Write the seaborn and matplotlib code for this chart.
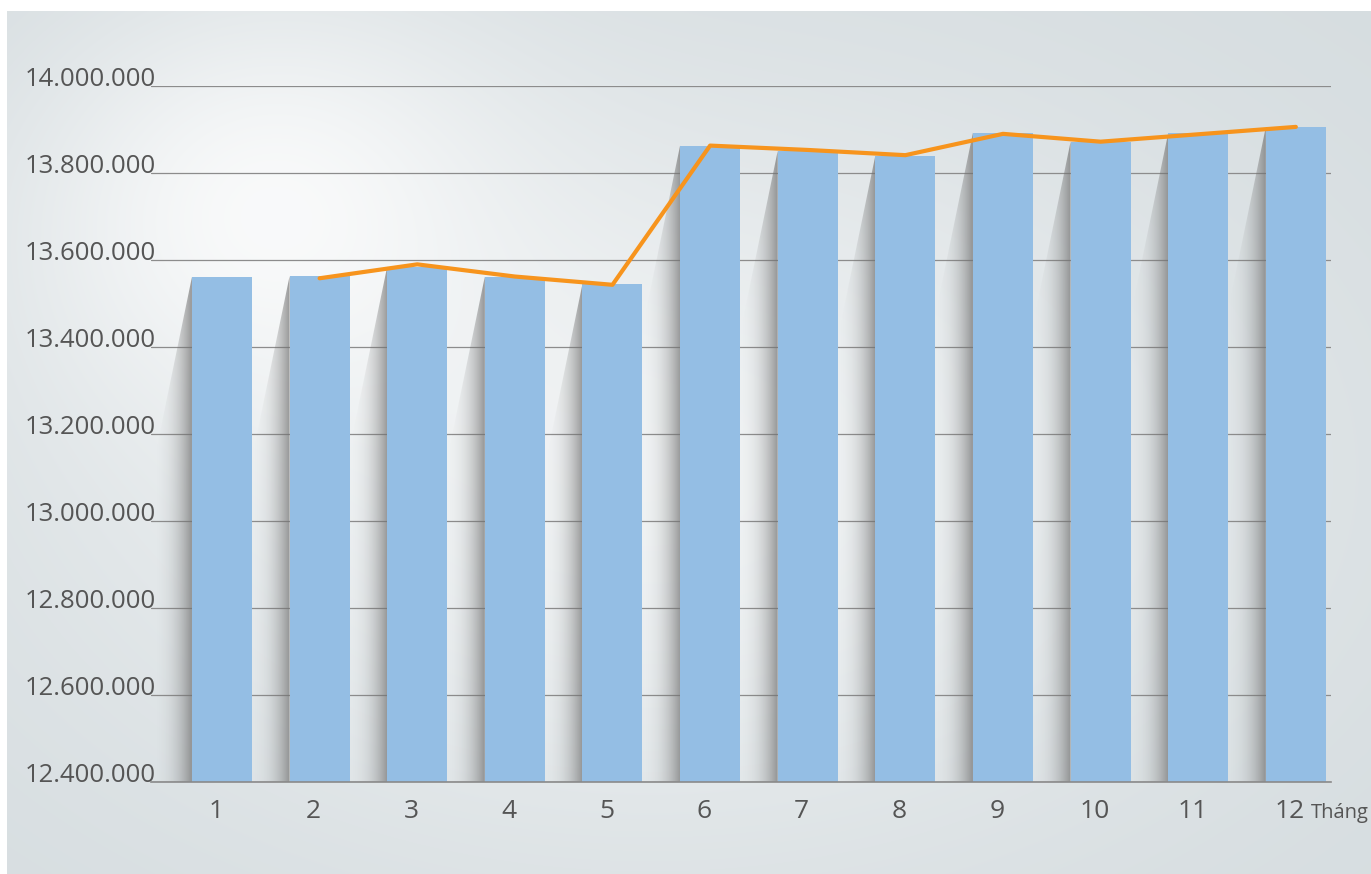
import matplotlib
matplotlib.use("Agg")
import matplotlib.pyplot as plt
from matplotlib.patches import Polygon
from matplotlib.transforms import ScaledTranslation
import seaborn as sns
import numpy as np

# Du lieu
thang = [1, 2, 3, 4, 5, 6, 7, 8, 9, 10, 11, 12]
gia_tri_cot = [13561000, 13563000, 13585000, 13562000, 13545000, 13863000,
               13851000, 13840000, 13893000, 13872000, 13892000, 13906000]
thang_duong = [2, 3, 4, 5, 6, 7, 8, 9, 10, 11, 12]
gia_tri_duong = [13558000, 13590000, 13562000, 13543000, 13863000, 13853000,
                 13841000, 13890000, 13872000, 13889000, 13906000]
y_ticks = [12400000, 12600000, 12800000, 13000000, 13200000,
           13400000, 13600000, 13800000, 14000000]
y_labels = ["12.400.000", "12.600.000", "12.800.000", "13.000.000", "13.200.000",
            "13.400.000", "13.600.000", "13.800.000", "14.000.000"]

MAU_COT = "#94bee4"
MAU_DUONG = "#f7941d"
MAU_CHU = "#555555"

sns.set_style("white")
plt.rcParams["font.family"] = ["Open Sans", "DejaVu Sans"]

W, H = 1371, 874
fig = plt.figure(figsize=(W / 100, H / 100), dpi=100)

# nen xam co vung sang
yy, xx = np.mgrid[0:H, 0:W]
f1 = np.exp(-(((xx - 270) / 240.0) ** 2 + ((yy - 210) / 210.0) ** 2))
f2 = np.exp(-(((xx - 650) / 620.0) ** 2 + ((yy - 470) / 390.0) ** 2))
f = 1 - (1 - 0.8 * f1) * (1 - 0.62 * f2)
edge = np.array([0.835, 0.863, 0.875])
bg = edge[None, None, :] + (1 - edge[None, None, :]) * f[:, :, None]
bg[:11, :, :] = 1.0
bg[:, :7, :] = 1.0
bg_ax = fig.add_axes([0, 0, 1, 1], zorder=-5)
bg_ax.imshow(bg, aspect="auto", extent=[0, W, H, 0])
bg_ax.axis("off")

ax = fig.add_axes([151 / W, 1 - 782 / H, (1331 - 151) / W, (782 - 86) / H])
ax.set_facecolor("none")

sns.barplot(x=thang, y=gia_tri_cot, color=MAU_COT, saturation=1, width=0.615,
            linewidth=0, edgecolor="none", ax=ax, zorder=3)

x_min, x_max = -0.727, 11.36
y_min, y_max = y_ticks[0], y_ticks[-1]

# bong do ben trai moi cot
grad = np.linspace(0, 1, 256) ** 2.4
shadow = np.zeros((1, 256, 4))
shadow[0, :, :3] = 0.45
shadow[0, :, 3] = 0.72 * grad
bar_w = 0.615
gap = 1 - bar_w
drop = 440000
for p in list(ax.patches):
    left = p.get_x()
    top = p.get_height()
    poly = Polygon([(left, top), (left - gap * 1.05, top - drop),
                    (left - gap * 1.05, y_min), (left, y_min)],
                   closed=True, transform=ax.transData, facecolor="none",
                   edgecolor="none")
    ax.add_patch(poly)
    im = ax.imshow(shadow, extent=[left - gap * 1.05, left, y_min, top],
                   aspect="auto", zorder=2, interpolation="bilinear")
    im.set_clip_path(poly)
ax.set_xlim(x_min, x_max)
ax.set_ylim(y_min, y_max)
ax.set_aspect("auto")

line_pos = [m - 1 for m in thang_duong]
sns.lineplot(x=line_pos, y=gia_tri_duong, color=MAU_DUONG, linewidth=3,
             ax=ax, zorder=5)

# truc
for s in ["top", "right", "left"]:
    ax.spines[s].set_visible(False)
ax.spines["bottom"].set_color("#8a8a8a")
ax.spines["bottom"].set_linewidth(1.2)
ax.spines["bottom"].set_zorder(6)

ax.yaxis.grid(True, color="#8c8c8c", linewidth=0.9)
ax.set_axisbelow(True)
ax.set_yticks(y_ticks)
ax.set_yticklabels(y_labels)
ax.tick_params(axis="y", length=0, pad=-3.6, labelsize=18.5, labelcolor=MAU_CHU)
for lb in ax.get_yticklabels():
    lb.set_va("baseline")

ax.set_xticks(range(len(thang)))
ax.set_xticklabels([str(t) for t in thang])
ax.set_xticks([i + 0.5 for i in range(len(thang) - 1)] + [x_max], minor=True)
ax.tick_params(axis="x", which="major", length=0, pad=12, labelsize=19,
               labelcolor=MAU_CHU)
ax.tick_params(axis="x", which="minor", length=9.5, width=2.4, color="#555555",
               direction="out")
# nhan thang lech trai mot chut nhu ban goc
dich = ScaledTranslation(-6 / 100, 0, fig.dpi_scale_trans)
for lb in ax.get_xticklabels():
    lb.set_transform(lb.get_transform() + dich)
ax.set_xlabel("")
ax.set_ylabel("")

ax.annotate("Tháng", xy=(1, 0), xycoords="axes fraction", xytext=(-20, -36),
            textcoords="offset pixels", ha="left", va="baseline", fontsize=14.5,
            color=MAU_CHU, annotation_clip=False)

fig.savefig("out.png", dpi=100)
